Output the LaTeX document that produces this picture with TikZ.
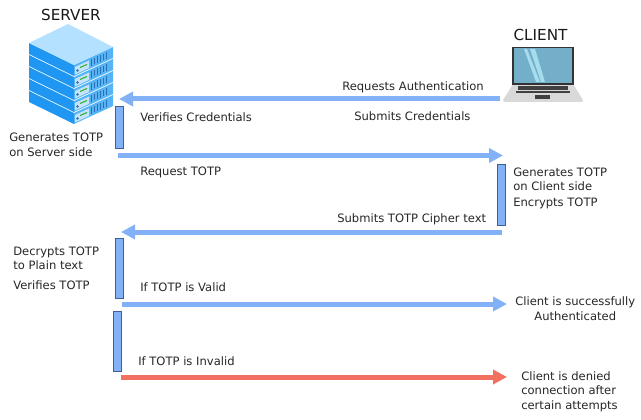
\documentclass[tikz,border=0pt]{standalone}
\usepackage{fontspec}
\setmainfont{DejaVu Sans}
\usetikzlibrary{
    arrows.meta
}
\definecolor{flowblue}{HTML}{82B1F7}
\definecolor{flowred}{HTML}{F2705F}
\definecolor{barline}{HTML}{3F5F96}
\definecolor{bladeleft}{HTML}{1F97F2}
\definecolor{bladeright}{HTML}{55B4F6}
\definecolor{bladetop}{HTML}{B4E1FF}
\definecolor{bladepanel}{HTML}{C4E3F8}
\definecolor{bladevent}{HTML}{2F6FB0}
\definecolor{lapscreen}{HTML}{74AFC9}
\definecolor{lapstreak}{HTML}{A6DDEC}
\tikzset{
    lbl/.style={anchor=west,inner sep=0pt,align=left,text=black!85,font=\fontsize{8.67}{10.9}\selectfont},
    title/.style={inner sep=0pt,text=black!90,font=\fontsize{11.4}{13}\selectfont},
    flow/.style={line width=3.75pt,flowblue,-{Triangle[length=10.5pt,width=10.5pt]}},
    denied/.style={flow,flowred},
    actbar/.style={draw=barline,line width=.7pt,fill=flowblue,inner sep=0pt,minimum width=6pt,anchor=north}
}
\begin{document}
\begin{tikzpicture}[x=.75pt,y=-.75pt]
    \useasboundingbox (0,0) rectangle (641,420);

    % server
    \foreach \o in {0,12,24,36,48} {
        \begin{scope}[yshift=-\o*.75pt]
            \fill[bladeleft] (29,43) -- (74,65) -- (74,76) -- (29,54) -- cycle;
            \fill[bladeright] (74,65) -- (113,47) -- (113,58) -- (74,76) -- cycle;
            \fill[bladepanel] (75,67) -- (89,60.5) -- (89,68) -- (75,74.5) -- cycle;
            \draw[green!60!black!80,line width=.8pt] (80,67.5) -- (87,64.5);
            \fill[bladevent] (77.5,70.5) circle (1pt);
            \foreach \v in {91,94,...,106} {
                \draw[bladevent,line width=.6pt] (\v,{65-(\v-74)*.46+2}) -- ++(0,6.5);
            }
        \end{scope}
    }
    \fill[bladetop] (68,24) -- (113,47) -- (74,65) -- (29,43) -- cycle;

    % client
    \fill[black!15] (513,84) -- (573,84) -- (583,100) -- (582,102) -- (504,102) -- (503,100) -- cycle;
    \fill[black!75] (518,86.5) rectangle (568,90);
    \fill[black!75] (516,91) rectangle (570,93.5);
    \fill[black!75] (535,95) rectangle (550,99);
    \draw[black!80,line width=.9pt,fill=lapscreen] (513,47.5) rectangle (573,84);
    \fill[lapstreak] (524,49) -- (527,49) -- (540,82) -- (536,82) -- cycle;
    \fill[lapstreak] (530,49) -- (535,49) -- (545,82) -- (541,82) -- cycle;

    \node[title] (server) at (71,15) {SERVER};
    \node[title] (client) at (540.5,35) {CLIENT};

    % activation bars
    \node[actbar,minimum height=31.5pt] (barA) at (119,106) {};
    \node[actbar,minimum height=45.75pt] (barB) at (501,164) {};
    \node[actbar,minimum height=45pt] (barC) at (119,238) {};
    \node[actbar,minimum height=45pt] (barD) at (117,311) {};

    % ends of the arrows
    \coordinate (clientA) at (500,99);
    \coordinate (serverA) at (119,99);
    \coordinate (serverB) at (118,155.5);
    \coordinate (clientB) at (503,155.5);
    \coordinate (clientC) at (502,232);
    \coordinate (serverC) at (121,232);
    \coordinate (serverD) at (122,304);
    \coordinate (clientD) at (507,304);
    \coordinate (serverE) at (121,377);
    \coordinate (clientE) at (507,377);

    \draw[flow] (clientA) -- (serverA);
    \draw[flow] (serverB) -- (clientB);
    \draw[flow] (clientC) -- (serverC);
    \draw[flow] (serverD) -- (clientD);
    \draw[denied] (serverE) -- (clientE);

    \node[lbl] (reqauth) at (342,87.5) {Requests Authentication};
    \node[lbl] (verifycred) at (140,117.5) {Verifies Credentials};
    \node[lbl] (submitcred) at (354,116.5) {Submits Credentials};
    \node[lbl] (gensrv) at (9,145) {Generates TOTP\\on Server side};
    \node[lbl] (reqtotp) at (140,172.5) {Request TOTP};
    \node[lbl] (gencli) at (513,179.5) {Generates TOTP\\on Client side};
    \node[lbl] (encrypt) at (513,203.5) {Encrypts TOTP};
    \node[lbl] (submitcipher) at (337,219.5) {Submits TOTP Cipher text};
    \node[lbl] (decrypt) at (13,258.5) {Decrypts TOTP\\to Plain text};
    \node[lbl] (verifytotp) at (13,285.5) {Verifies TOTP};
    \node[lbl] (valid) at (140,287.5) {If TOTP is Valid};
    \node[lbl,align=center] (success) at (515,308.5) {Client is successfully\\Authenticated};
    \node[lbl] (invalid) at (138,361.5) {If TOTP is Invalid};
    \node[lbl] (deny) at (521,391.5) {Client is denied\\connection after\\certain attempts};
\end{tikzpicture}
\end{document}
